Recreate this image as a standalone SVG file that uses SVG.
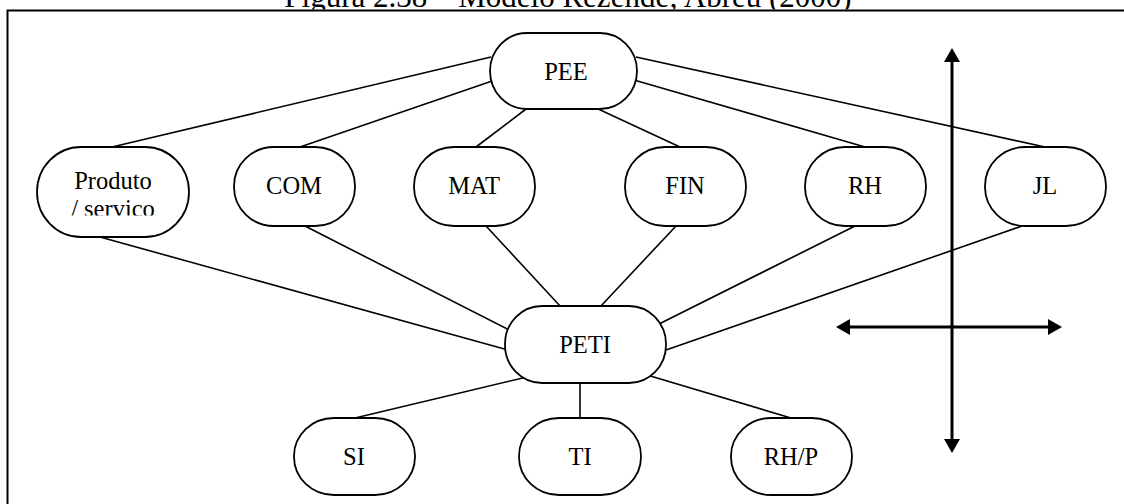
<svg xmlns="http://www.w3.org/2000/svg" width="1124" height="504" viewBox="0 0 1124 504">
  <style>
    .node { fill: #ffffff; stroke: #000000; stroke-width: 1.8; }
    .label { font-family: "Liberation Serif", "Times New Roman", serif; font-size: 24.5px; fill: #000000; text-anchor: middle; }
    .title { font-family: "Liberation Serif", "Times New Roman", serif; font-size: 31px; fill: #000000; text-anchor: middle; }
    .link { stroke: #000000; stroke-width: 1.6; fill: none; }
    .axis { stroke: #000000; stroke-width: 3; fill: none; marker-start: url(#head); marker-end: url(#head); }
  </style>
  <defs>
    <marker id="head" viewBox="0 0 14 16" refX="4" refY="8" markerWidth="14" markerHeight="16" markerUnits="userSpaceOnUse" orient="auto-start-reverse">
      <path d="M0,0 L14,8 L0,16 Z" fill="#000000"/>
    </marker>
    <clipPath id="titleClip"><rect x="0" y="0" width="1124" height="9.5"/></clipPath>
    <clipPath id="prodClip"><rect x="30" y="140" width="170" height="75.5"/></clipPath>
  </defs>

  <rect width="1124" height="504" fill="#ffffff"/>

  <!-- caption, cut at the top edge -->
  <text class="title" x="568" y="7" clip-path="url(#titleClip)">Figura 2.38 – Modelo Rezende; Abreu (2000)</text>

  <!-- outer frame -->
  <rect x="7.5" y="10.5" width="1130" height="500" fill="none" stroke="#000000" stroke-width="2"/>

  <!-- connectors -->
  <g id="connectors">
    <line class="link" x1="491" y1="57" x2="112" y2="147"/>
    <line class="link" x1="495" y1="80" x2="300" y2="147"/>
    <line class="link" x1="530" y1="106" x2="476" y2="147"/>
    <line class="link" x1="596" y1="108" x2="680" y2="147"/>
    <line class="link" x1="634" y1="80" x2="865" y2="147"/>
    <line class="link" x1="636" y1="57" x2="1045" y2="147"/>

    <line class="link" x1="100" y1="237" x2="508" y2="350"/>
    <line class="link" x1="303" y1="225" x2="515" y2="333"/>
    <line class="link" x1="486" y1="226" x2="561" y2="307"/>
    <line class="link" x1="676" y1="226" x2="600" y2="307"/>
    <line class="link" x1="857" y1="225" x2="655" y2="326"/>
    <line class="link" x1="1022" y1="226" x2="666" y2="350"/>

    <line class="link" x1="527" y1="377" x2="355" y2="418"/>
    <line class="link" x1="580" y1="383" x2="580" y2="418"/>
    <line class="link" x1="647" y1="375" x2="791" y2="418"/>

    <!-- axes with arrowheads at both ends -->
    <line class="axis" x1="952" y1="58" x2="952" y2="443"/>
    <line class="axis" x1="846" y1="327" x2="1052" y2="327"/>
  </g>

  <g id="pee">
    <rect class="node" x="490" y="33" width="147" height="76" rx="37" ry="38"/>
    <text class="label" x="566" y="80">PEE</text>
  </g>

  <g id="produto">
    <rect class="node" x="37" y="147" width="152" height="90" rx="44" ry="45"/>
    <g clip-path="url(#prodClip)">
      <text class="label" x="113" y="189">Produto</text>
      <text class="label" x="113" y="217">/ servico</text>
    </g>
  </g>

  <g id="com">
    <rect class="node" x="234" y="147" width="121" height="79" rx="40" ry="39"/>
    <text class="label" x="294" y="194">COM</text>
  </g>

  <g id="mat">
    <rect class="node" x="414" y="147" width="121" height="79" rx="40" ry="39"/>
    <text class="label" x="474" y="194">MAT</text>
  </g>

  <g id="fin">
    <rect class="node" x="625" y="147" width="121" height="79" rx="40" ry="39"/>
    <text class="label" x="685" y="194">FIN</text>
  </g>

  <g id="rh">
    <rect class="node" x="805" y="147" width="121" height="79" rx="40" ry="39"/>
    <text class="label" x="865" y="194">RH</text>
  </g>

  <g id="jl">
    <rect class="node" x="985" y="147" width="121" height="79" rx="40" ry="39"/>
    <text class="label" x="1045" y="194">JL</text>
  </g>

  <g id="peti">
    <rect class="node" x="505" y="306" width="161" height="77" rx="37" ry="38"/>
    <text class="label" x="585" y="353">PETI</text>
  </g>

  <g id="si">
    <rect class="node" x="294" y="418" width="121" height="77" rx="40" ry="38"/>
    <text class="label" x="354" y="465">SI</text>
  </g>

  <g id="ti">
    <rect class="node" x="519" y="418" width="122" height="77" rx="40" ry="38"/>
    <text class="label" x="580" y="465">TI</text>
  </g>

  <g id="rhp">
    <rect class="node" x="731" y="418" width="121" height="77" rx="40" ry="38"/>
    <text class="label" x="791" y="465">RH/P</text>
  </g>
</svg>
